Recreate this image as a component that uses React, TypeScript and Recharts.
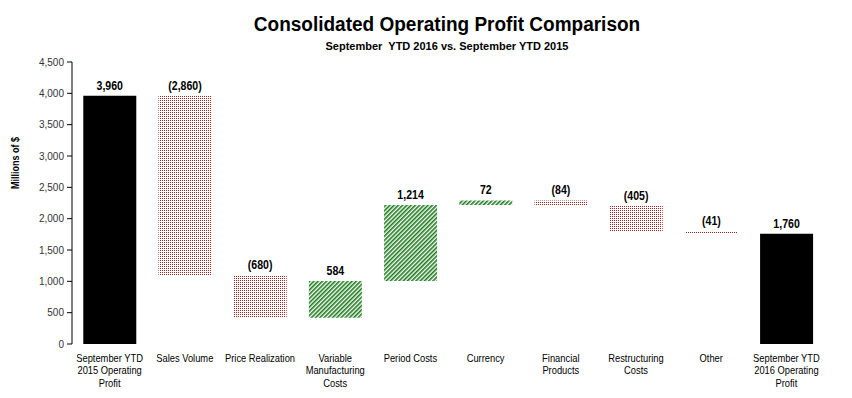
import { BarChart, Bar, XAxis, YAxis, Cell, LabelList } from 'recharts';

const categories = [
  'September YTD 2015 Operating Profit',
  'Sales Volume',
  'Price Realization',
  'Variable Manufacturing Costs',
  'Period Costs',
  'Currency',
  'Financial Products',
  'Restructuring Costs',
  'Other',
  'September YTD 2016 Operating Profit',
];

// first and last are totals, the rest are changes
const changes = [3960, -2860, -680, 584, 1214, 72, -84, -405, -41, 1760];
const isTotal = [true, false, false, false, false, false, false, false, false, true];

const labelLines: Record<string, string[]> = {
  'September YTD 2015 Operating Profit': ['September YTD', '2015 Operating', 'Profit'],
  'Variable Manufacturing Costs': ['Variable', 'Manufacturing', 'Costs'],
  'Financial Products': ['Financial', 'Products'],
  'Restructuring Costs': ['Restructuring', 'Costs'],
  'September YTD 2016 Operating Profit': ['September YTD', '2016 Operating', 'Profit'],
};

const yTicks = [0, 500, 1000, 1500, 2000, 2500, 3000, 3500, 4000, 4500];
const edgeTicks = [0, 1, 2, 3, 4, 5, 6, 7, 8, 9, 10];

const FONT = '"Liberation Sans", Arial, sans-serif';

// build waterfall rows as [low, high] ranges
let running = 0;
const chartData = categories.map((name, i) => {
  const v = changes[i];
  let range: [number, number];
  if (isTotal[i]) {
    range = [0, v];
    running = v;
  } else {
    const next = running + v;
    range = [Math.min(running, next), Math.max(running, next)];
    running = next;
  }
  const label = v < 0 ? `(${Math.abs(v).toLocaleString('en-US')})` : v.toLocaleString('en-US');
  const fill = isTotal[i] ? '#000000' : v < 0 ? 'url(#redDots)' : 'url(#greenStripes)';
  return { name, range, label, fill };
});

const CategoryTick = (props: any) => {
  const { x, y, payload } = props;
  const lines = labelLines[payload.value] || [payload.value];
  return (
    <g transform={`translate(${x},${y + 10}) scale(0.85,1)`}>
      <text x={0} y={0} textAnchor="middle" fontFamily={FONT} fontSize={11} fill="#000">
        {lines.map((l: string, i: number) => (
          <tspan key={i} x={0} dy={i === 0 ? 0 : 12.5}>
            {l}
          </tspan>
        ))}
      </text>
    </g>
  );
};

const ValueLabel = (props: any) => {
  const { x, y, width, value } = props;
  return (
    <g transform={`translate(${x + width / 2},${y - 6}) scale(0.88,1)`}>
      <text x={0} y={0} textAnchor="middle" fontFamily={FONT} fontSize={12} fontWeight="bold" fill="#000">
        {value}
      </text>
    </g>
  );
};

export default function App() {
  return (
    <div style={{ position: 'absolute', left: 0, top: 0, width: 852, height: 398, background: '#fff' }}>
      <div
        style={{
          position: 'absolute',
          left: 47,
          top: 13,
          width: 800,
          textAlign: 'center',
          fontFamily: FONT,
          fontWeight: 'bold',
          fontSize: 20,
          lineHeight: 'normal',
          color: '#000',
          transform: 'scaleX(0.95)',
          whiteSpace: 'nowrap',
        }}
      >
        Consolidated Operating Profit Comparison
      </div>
      <div
        style={{
          position: 'absolute',
          left: 47,
          top: 40,
          width: 800,
          textAlign: 'center',
          fontFamily: FONT,
          fontWeight: 'bold',
          fontSize: 11,
          lineHeight: 'normal',
          color: '#000',
          whiteSpace: 'pre',
        }}
      >
        {'September  YTD 2016 vs. September YTD 2015'}
      </div>
      <div
        style={{
          position: 'absolute',
          left: 15,
          top: 163,
          transform: 'translate(-50%, -50%) rotate(-90deg) scaleX(0.82)',
          fontFamily: FONT,
          fontWeight: 'bold',
          fontSize: 11,
          lineHeight: 'normal',
          whiteSpace: 'nowrap',
          zIndex: 2,
        }}
      >
        Millions of $
      </div>
      <BarChart
        width={852}
        height={398}
        data={chartData}
        margin={{ top: 62, right: 28, bottom: 4, left: 0 }}
        barCategoryGap="15%"
        style={{ position: 'absolute', left: 0, top: 0 }}
      >
        <defs>
          <pattern id="redDots" width="2" height="2" patternUnits="userSpaceOnUse">
            <rect x="0" y="0" width="2" height="2" fill="#ffffff" />
            <rect x="0" y="0" width="1" height="1" fill="#a8201f" />
          </pattern>
          <pattern
            id="greenStripes"
            width="3"
            height="3"
            patternUnits="userSpaceOnUse"
            patternTransform="rotate(45)"
          >
            <rect x="0" y="0" width="3" height="3" fill="#ffffff" />
            <rect x="0" y="0" width="1.6" height="3" fill="#1b7a1b" />
          </pattern>
        </defs>
        <XAxis
          xAxisId="edge"
          type="number"
          domain={[0, 10]}
          ticks={edgeTicks}
          tick={false}
          height={0}
          tickSize={5}
          stroke="#000"
          allowDataOverflow
        />
        <XAxis
          xAxisId="cat"
          dataKey="name"
          interval={0}
          tick={<CategoryTick />}
          axisLine={false}
          tickLine={false}
          height={50}
        />
        <YAxis
          domain={[0, 4500]}
          ticks={yTicks}
          width={72}
          tickSize={5}
          tickMargin={3}
          stroke="#000"
          tickFormatter={(v: number) => v.toLocaleString('en-US')}
          tick={{ fontFamily: FONT, fontSize: 10, fill: '#333' }}
        />
        <Bar dataKey="range" xAxisId="cat" isAnimationActive={false}>
          {chartData.map((d, i) => (
            <Cell key={`c-${i}`} fill={d.fill} />
          ))}
          <LabelList dataKey="label" content={<ValueLabel />} />
        </Bar>
      </BarChart>
    </div>
  );
}
